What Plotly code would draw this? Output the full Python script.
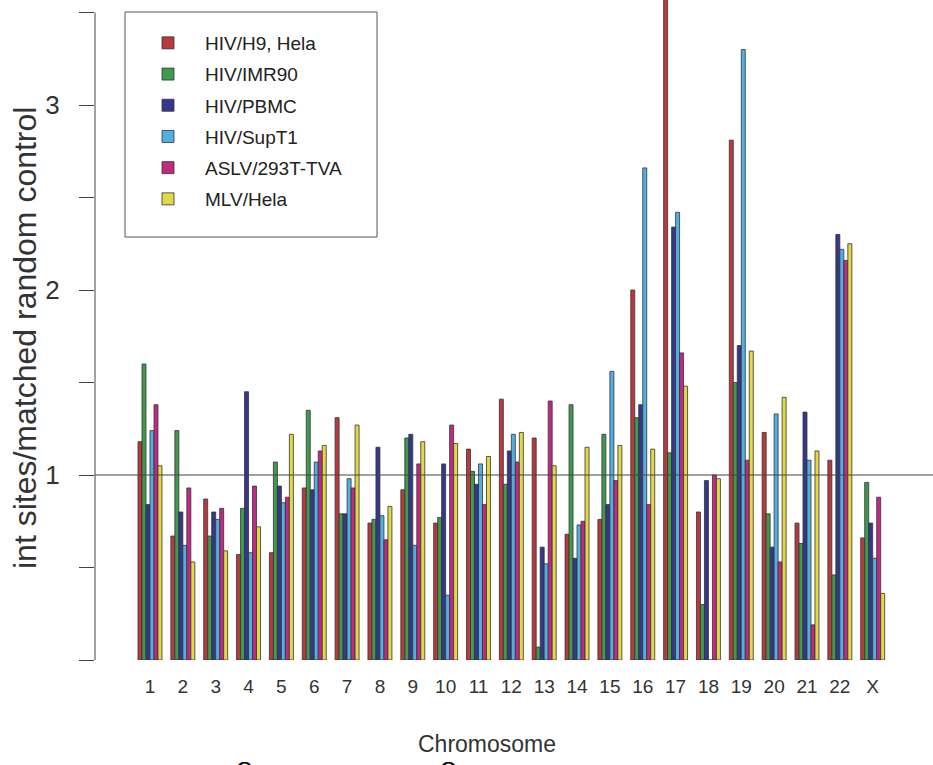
import plotly.graph_objects as go

chromosomes = ["1", "2", "3", "4", "5", "6", "7", "8", "9", "10", "11", "12",
               "13", "14", "15", "16", "17", "18", "19", "20", "21", "22", "X"]

series_names = ["HIV/H9, Hela", "HIV/IMR90", "HIV/PBMC", "HIV/SupT1",
                "ASLV/293T-TVA", "MLV/Hela"]

hiv_h9_hela = [1.18, 0.67, 0.87, 0.57, 0.58, 0.93, 1.31, 0.74, 0.92, 0.74, 1.14, 1.41,
               1.20, 0.68, 0.76, 2.00, 3.70, 0.80, 2.81, 1.23, 0.74, 1.08, 0.66]
hiv_imr90 = [1.60, 1.24, 0.67, 0.82, 1.07, 1.35, 0.79, 0.76, 1.20, 0.77, 1.02, 0.95,
             0.07, 1.38, 1.22, 1.31, 1.12, 0.30, 1.50, 0.79, 0.63, 0.46, 0.96]
hiv_pbmc = [0.84, 0.80, 0.80, 1.45, 0.94, 0.92, 0.79, 1.15, 1.22, 1.06, 0.95, 1.13,
            0.61, 0.55, 0.84, 1.38, 2.34, 0.97, 1.70, 0.61, 1.34, 2.30, 0.74]
hiv_supt1 = [1.24, 0.62, 0.76, 0.58, 0.85, 1.07, 0.98, 0.78, 0.62, 0.35, 1.06, 1.22,
             0.52, 0.73, 1.56, 2.66, 2.42, 0.00, 3.30, 1.33, 1.08, 2.22, 0.55]
aslv_293t_tva = [1.38, 0.93, 0.82, 0.94, 0.88, 1.13, 0.93, 0.65, 1.06, 1.27, 0.84, 1.07,
                 1.40, 0.75, 0.97, 0.84, 1.66, 1.00, 1.08, 0.53, 0.19, 2.16, 0.88]
mlv_hela = [1.05, 0.53, 0.59, 0.72, 1.22, 1.16, 1.27, 0.83, 1.18, 1.17, 1.10, 1.23,
            1.05, 1.15, 1.16, 1.14, 1.48, 0.98, 1.67, 1.42, 1.13, 2.25, 0.36]

colors = ["#b83a3e", "#3f9a4d", "#35378a", "#52b0e0", "#c02a86", "#e2d848"]

y_tickvals = [0, 0.5, 1, 1.5, 2, 2.5, 3, 3.5]
y_ticktext = ["", "", "1", "", "2", "", "3", ""]

all_series = [hiv_h9_hela, hiv_imr90, hiv_pbmc, hiv_supt1, aslv_293t_tva, mlv_hela]
xpos = list(range(len(chromosomes)))

fig = go.Figure()
for i, (name, vals) in enumerate(zip(series_names, all_series)):
    fig.add_trace(go.Bar(
        x=xpos, y=vals, name=name, legendgroup=name,
        marker=dict(color=colors[i], line=dict(color="#333333", width=0.8)),
    ))

W, H = 933, 765
ml, mr, mt, mb = 95, 0, 0, 105
pw = W - ml - mr
ph = H - mt - mb

x0 = -1.674
x1 = x0 + pw / 32.85

fig.update_layout(
    width=W, height=H, autosize=False,
    margin=dict(l=ml, r=mr, t=mt, b=mb, pad=0),
    paper_bgcolor="white", plot_bgcolor="white",
    barmode="group", bargap=0.27, bargroupgap=0,
    font=dict(family="Liberation Sans, Arial, sans-serif", color="#333333"),
    showlegend=True,
    legend=dict(
        x=(131 - ml) / pw, y=1 - 24 / ph, xanchor="left", yanchor="top",
        bgcolor="rgba(0,0,0,0)", borderwidth=0,
        font=dict(size=19, color="#222222"),
        tracegroupgap=3.5, itemwidth=64, traceorder="grouped",
    ),
    xaxis=dict(
        range=[x0, x1], tickmode="array", tickvals=xpos, ticktext=chromosomes,
        showgrid=False, zeroline=False, showline=False, ticks="",
        tickfont=dict(size=19, color="#333333"), ticklabelstandoff=13,
    ),
    yaxis=dict(
        range=[0, ph / 185.0], tickmode="array", tickvals=y_tickvals, ticktext=y_ticktext,
        showgrid=False, zeroline=False, showline=False,
        ticks="outside", ticklen=15, tickcolor="#444444", tickwidth=1,
        tickfont=dict(size=26, color="#333333"), ticklabelstandoff=14,
    ),
)

# y axis line (ends at top tick)
fig.add_shape(type="line", xref="paper", yref="y", x0=0, x1=0, y0=0, y1=3.5,
              line=dict(color="#444444", width=1))
# reference line at 1
fig.add_shape(type="line", xref="paper", yref="y", x0=0, x1=1, y0=1, y1=1,
              line=dict(color="#444444", width=1.2))
# legend box
fig.add_shape(type="rect", xref="paper", yref="paper",
              x0=(125 - ml) / pw, x1=(377 - ml) / pw,
              y0=1 - 237 / ph, y1=1 - 12 / ph,
              line=dict(color="#555555", width=1), fillcolor="rgba(0,0,0,0)")

fig.add_annotation(text="int sites/matched random control", xref="paper", yref="paper",
                   x=(25 - ml) / pw, y=1 - 338 / ph, xanchor="center", yanchor="middle",
                   textangle=-90, showarrow=False,
                   font=dict(size=32, color="#333333"))
fig.add_annotation(text="Chromosome", xref="paper", yref="paper",
                   x=(487 - ml) / pw, y=1 - 744 / ph, xanchor="center", yanchor="middle",
                   showarrow=False, font=dict(size=23, color="#333333"))
for px in (244, 448):
    fig.add_annotation(text="8", xref="paper", yref="paper",
                       x=(px - ml) / pw, y=1 - 754 / ph, xanchor="center", yanchor="top",
                       showarrow=False,
                       font=dict(size=30, family="DejaVu Serif", color="#000000"))

fig.write_html("out.html")
